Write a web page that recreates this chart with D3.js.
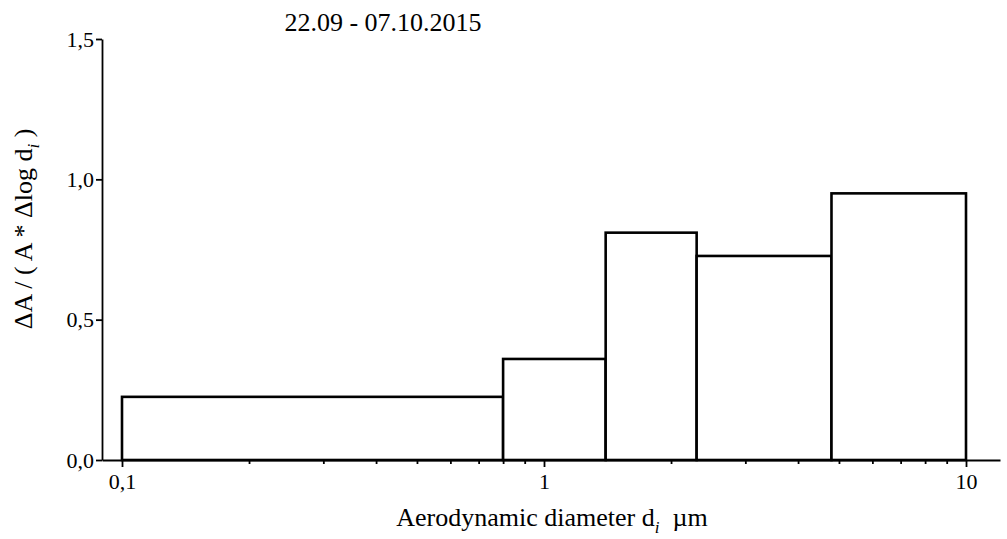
<!DOCTYPE html>
<html>
<head>
<meta charset="utf-8">
<script src="https://cdn.jsdelivr.net/npm/d3@7"></script>
<style>
  html, body { margin: 0; padding: 0; background: #fff; }
</style>
</head>
<body>
<svg id="chart" width="1007" height="539"></svg>
<script>
// Size-bin edges (µm) and normalised values per bin
const binEdges = [0.1, 0.8, 1.4, 2.3, 4.8, 10];
const binValues = [0.225, 0.36, 0.81, 0.727, 0.95];
const yTicks = [0, 0.5, 1.0, 1.5];
const xTicks = [0.1, 1, 10];
const xMinorTicks = [0.2, 0.3, 0.4, 0.5, 0.6, 0.7, 0.8, 0.9, 2, 3, 4, 5, 6, 7, 8, 9];
const titleText = "22.09 - 07.10.2015";

const FONT = '"Liberation Serif", monospace';

const svg = d3.select("#chart");

// Log-scaled x: 0.1 → 122 px, 10 → 966 px; axis extends a little beyond both
const decade = 422;
const x0 = 102, x1 = 1000;
const x = d3.scaleLog()
  .domain([Math.pow(10, -1 - (122 - x0) / decade), Math.pow(10, 1 + (x1 - 966) / decade)])
  .range([x0, x1]);

const y = d3.scaleLinear().domain([0, 1.5]).range([460, 39]);

const fmt = d => d3.format(".1f")(d).replace(".", ",");
const fmtX = d => String(d).replace(".", ",");

// bars
const bins = binValues.map((v, i) => ({ lo: binEdges[i], hi: binEdges[i + 1], v }));
svg.append("g").selectAll("rect").data(bins).join("rect")
  .attr("x", d => x(d.lo))
  .attr("width", d => x(d.hi) - x(d.lo))
  .attr("y", d => y(d.v))
  .attr("height", d => y(0) - y(d.v))
  .attr("fill", "#fff")
  .attr("stroke", "#000")
  .attr("stroke-width", 2.6);

// x axis: minor ticks, then major ticks with labels
const gxMinor = svg.append("g").attr("transform", `translate(0,${y(0)})`)
  .call(d3.axisBottom(x).tickValues(xMinorTicks).tickSize(4).tickFormat(""));
gxMinor.select(".domain").remove();
gxMinor.selectAll("line").attr("stroke", "#000").attr("stroke-width", 1.8);

const gx = svg.append("g").attr("transform", `translate(0,${y(0)})`)
  .call(d3.axisBottom(x).tickValues(xTicks).tickSize(7).tickSizeOuter(0).tickPadding(6).tickFormat(fmtX));
gx.select(".domain").attr("stroke", "#000").attr("stroke-width", 1.8);
gx.selectAll("line").attr("stroke", "#000").attr("stroke-width", 1.8);
gx.selectAll("text").style("font-family", FONT).style("font-size", "22px").attr("fill", "#000");

// y axis
const gy = svg.append("g").attr("transform", `translate(${x0},0)`)
  .call(d3.axisLeft(y).tickValues(yTicks).tickSize(6).tickSizeOuter(0).tickPadding(2).tickFormat(fmt));
gy.select(".domain").attr("stroke", "#000").attr("stroke-width", 1.8);
gy.selectAll("line").attr("stroke", "#000").attr("stroke-width", 1.8);
gy.selectAll("text").style("font-family", FONT).style("font-size", "22px").attr("fill", "#000");

// title
svg.append("text")
  .attr("x", 383).attr("y", 31)
  .attr("text-anchor", "middle")
  .style("font-family", FONT)
  .style("font-size", "26px")
  .text(titleText);

// x axis title
const xt = svg.append("text")
  .attr("x", 552).attr("y", 526)
  .attr("text-anchor", "middle")
  .style("font-family", FONT)
  .style("font-size", "26px");
xt.append("tspan").text("Aerodynamic diameter d");
xt.append("tspan").style("font-size", "17px").style("font-style", "italic").attr("dy", 7).text("i");
xt.append("tspan").attr("dy", -7).text("\u00a0 µm");

// y axis title
const yt = svg.append("text")
  .attr("transform", "translate(32,229) rotate(-90)")
  .attr("text-anchor", "middle")
  .style("font-family", FONT)
  .style("font-size", "26px");
yt.append("tspan").text("ΔA / ( A * Δlog d");
yt.append("tspan").style("font-size", "17px").style("font-style", "italic").attr("dy", 7).text("i");
yt.append("tspan").attr("dy", -7).text(" )");
</script>
</body>
</html>
